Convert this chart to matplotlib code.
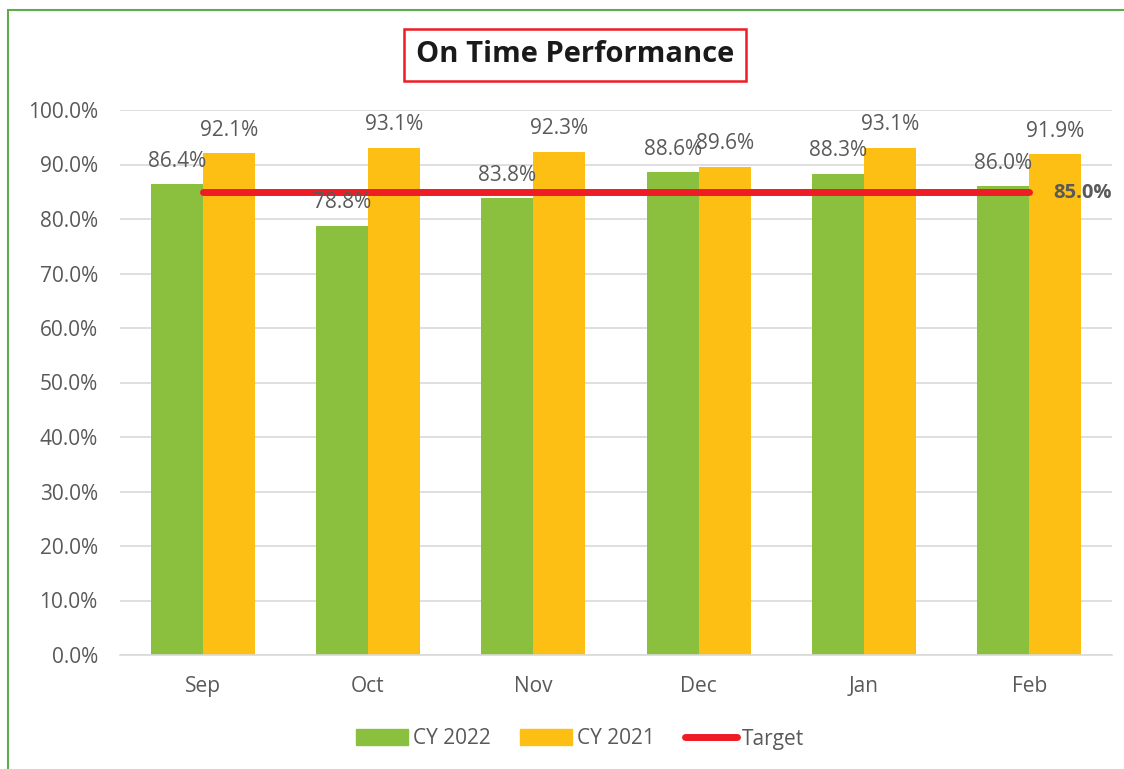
import numpy as np
import matplotlib.pyplot as plt
from matplotlib.patches import Rectangle
from matplotlib.lines import Line2D

months = ['Sep', 'Oct', 'Nov', 'Dec', 'Jan', 'Feb']
cy2022 = [86.4, 78.8, 83.8, 88.6, 88.3, 86.0]
cy2021 = [92.1, 93.1, 92.3, 89.6, 93.1, 91.9]
target = [85.0, 85.0, 85.0, 85.0, 85.0, 85.0]
yticks = [0, 10, 20, 30, 40, 50, 60, 70, 80, 90, 100]

GREEN = '#8BC03F'
ORANGE = '#FDBF14'
RED = '#EE1C25'
GREY = '#595959'

plt.rcParams['font.family'] = ['Open Sans', 'DejaVu Sans']

fig = plt.figure(figsize=(11.24, 7.69), dpi=100)
ax = fig.add_axes([120 / 1124, 1 - 655 / 769, 992 / 1124, 545 / 769])

x = np.arange(len(months))
w = 0.315
b1 = ax.bar(x - w / 2, cy2022, w, color=GREEN, zorder=2)
b2 = ax.bar(x + w / 2, cy2021, w, color=ORANGE, zorder=2)
ax.plot(x, target, color=RED, lw=5, solid_capstyle='round', zorder=3)

for bars, vals in ((b1, cy2022), (b2, cy2021)):
    for bar, v in zip(bars, vals):
        ax.annotate(f'{v:.1f}%', (bar.get_x() + bar.get_width() / 2, v),
                    xytext=(0, 9), textcoords='offset points',
                    ha='center', va='bottom', fontsize=15, color=GREY, zorder=4)

ax.annotate(f'{target[-1]:.1f}%', (x[-1], target[-1]), xytext=(17, -1),
            textcoords='offset points', ha='left', va='center',
            fontsize=14.5, fontweight='bold', color=GREY, zorder=4)

ax.set_xlim(-0.5, len(months) - 0.5)
ax.set_ylim(0, 100)
ax.set_yticks(yticks)
ax.set_yticklabels([f'{t:.1f}%' for t in yticks])
ax.set_xticks(x)
ax.set_xticklabels(months)
ax.tick_params(axis='both', length=0, labelsize=15, labelcolor=GREY)
ax.tick_params(axis='y', pad=16)
ax.tick_params(axis='x', pad=15)
ax.grid(axis='y', color='#D9D9D9', lw=1.2, zorder=0)
for s in ('top', 'right', 'left'):
    ax.spines[s].set_visible(False)
ax.spines['bottom'].set_color('#D9D9D9')
ax.spines['bottom'].set_linewidth(1.2)

fig.text(575 / 1124, 1 - 55 / 769, 'On Time Performance', ha='center', va='center',
         fontsize=21, fontweight='bold', color='#1a1a1a',
         bbox=dict(boxstyle='square,pad=0.4', fc='white', ec=RED, lw=1.8))

# outer green frame (only left and top edges visible)
fig.patches.append(Rectangle((8 / 1124, -0.1), 1.2, 1 - 10 / 769 + 0.1,
                             transform=fig.transFigure, fill=False,
                             ec='#5DAE4B', lw=1.5))

handles = [Rectangle((0, 0), 1, 1, color=GREEN),
           Rectangle((0, 0), 1, 1, color=ORANGE),
           Line2D([], [], color=RED, lw=5, solid_capstyle='round')]
fig.legend(handles, ['CY 2022', 'CY 2021', 'Target'], loc='center',
           bbox_to_anchor=(580 / 1124, 1 - 739 / 769), ncol=3, frameon=False,
           fontsize=15, labelcolor=GREY, handlelength=2.5, handleheight=0.8,
           handletextpad=0.25, columnspacing=1.4)

fig.savefig('out.png', dpi=100)
